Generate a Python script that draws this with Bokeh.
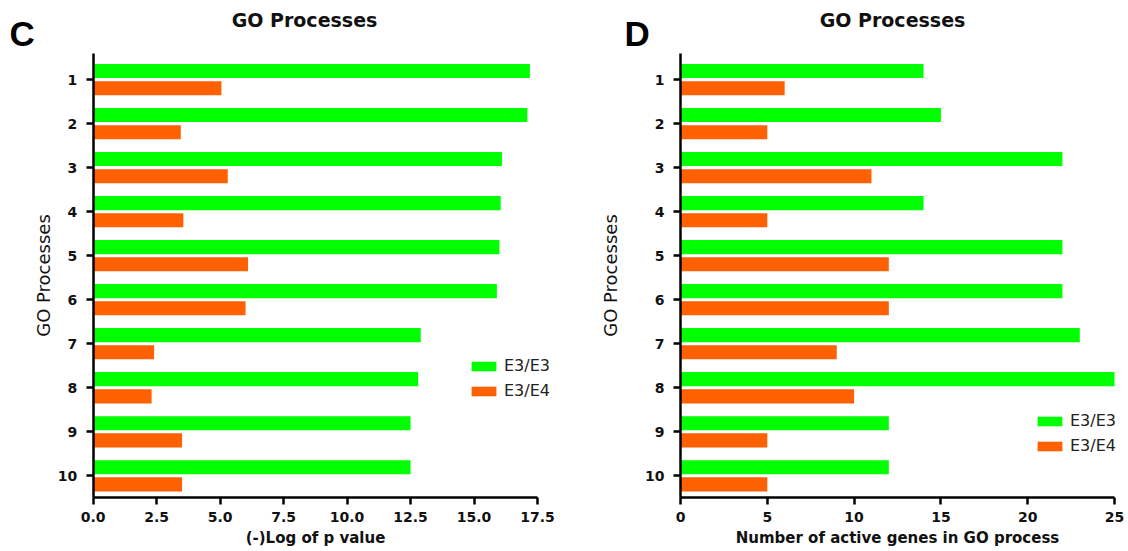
from bokeh.plotting import figure
from bokeh.layouts import row
from bokeh.models import (Range1d, FixedTicker, Legend, LegendItem, Label,
                          ColumnDataSource, CustomJSTickFormatter)
from bokeh.transform import dodge
from bokeh.embed import file_html
from bokeh.resources import INLINE

# GO process ranks (1 = top)
processes = [1, 2, 3, 4, 5, 6, 7, 8, 9, 10]

# Panel C: -log10(p) per GO process
logp_e3e3 = [17.2, 17.1, 16.1, 16.05, 16.0, 15.9, 12.9, 12.8, 12.5, 12.5]
logp_e3e4 = [5.05, 3.45, 5.3, 3.55, 6.1, 6.0, 2.4, 2.3, 3.5, 3.5]

# Panel D: number of active genes per GO process
genes_e3e3 = [14, 15, 22, 14, 22, 22, 23, 25, 12, 12]
genes_e3e4 = [6, 5, 11, 5, 12, 12, 9, 10, 5, 5]

ticks_c = [0.0, 2.5, 5.0, 7.5, 10.0, 12.5, 15.0, 17.5]
ticks_d = [0, 5, 10, 15, 20, 25]

series_names = ["E3/E3", "E3/E4"]
GREEN = "#00FF00"
ORANGE = "#FF6000"
FONT = "DejaVu Sans"

FIG_W, FIG_H = 564, 551
# vertical extent of the category axis inside each panel (pixels from top)
Y_TOP_PX, Y_BOT_PX = 52.7, 497.3
Y_LO, Y_HI = 0.4, 10.5


def panel(letter, x_label, a, b, ticks, xmax, tick_fmt, axis_left_px,
          axis_right_px, title_cx, letter_x, ylabel_standoff, legend_xy):
    # pixel <-> data mapping so that the axes sit where they should while
    # the frame spans the whole canvas (titles and legend are drawn inside)
    xs = (axis_right_px - axis_left_px) / xmax
    ys = (Y_BOT_PX - Y_TOP_PX) / (Y_HI - Y_LO)

    def dx(px):
        return (px - axis_left_px) / xs

    def dy(px):
        return Y_LO + (px - Y_TOP_PX) / ys

    src = ColumnDataSource(dict(proc=processes, a=a, b=b))
    p = figure(width=FIG_W, height=FIG_H,
               x_range=Range1d(dx(0), dx(FIG_W)),
               y_range=Range1d(dy(FIG_H), dy(0)),
               min_border=0, output_backend="svg", toolbar_location=None)

    g = p.hbar(y=dodge("proc", -0.195, range=p.y_range), right="a", left=0,
               height=0.32, source=src, fill_color=GREEN, line_color=None)
    o = p.hbar(y=dodge("proc", 0.195, range=p.y_range), right="b", left=0,
               height=0.32, source=src, fill_color=ORANGE, line_color=None)

    p.xgrid.visible = False
    p.ygrid.visible = False
    p.outline_line_color = None
    p.background_fill_color = "white"
    p.border_fill_color = "white"

    for ax in (p.xaxis[0], p.yaxis[0]):
        ax.axis_line_width = 2.5
        ax.axis_line_color = "black"
        ax.major_tick_line_width = 2.5
        ax.major_tick_line_color = "black"
        ax.major_tick_out = 7
        ax.major_tick_in = 0
        ax.minor_tick_line_color = None
        ax.major_label_text_font = FONT
        ax.major_label_text_font_style = "bold"
        ax.major_label_text_font_size = "14px"
        ax.major_label_text_color = "#111111"
        ax.axis_label_text_font = FONT
        ax.axis_label_text_color = "#111111"

    xa = p.xaxis[0]
    xa.fixed_location = Y_HI
    xa.bounds = (0, xmax)
    xa.ticker = FixedTicker(ticks=ticks)
    xa.formatter = CustomJSTickFormatter(code=tick_fmt)
    xa.axis_label = x_label
    xa.axis_label_text_font_style = "bold"
    xa.axis_label_text_font_size = "15px"
    xa.major_label_standoff = 7
    xa.axis_label_standoff = 4

    ya = p.yaxis[0]
    ya.fixed_location = 0
    ya.bounds = (Y_LO, Y_HI)
    ya.ticker = FixedTicker(ticks=processes)
    ya.axis_label = "GO Processes"
    ya.axis_label_text_font_style = "normal"
    ya.axis_label_text_font_size = "18px"
    ya.major_label_standoff = 9
    ya.axis_label_standoff = ylabel_standoff

    legend = Legend(items=[LegendItem(label=series_names[0], renderers=[g]),
                           LegendItem(label=series_names[1], renderers=[o])],
                    location=legend_xy, orientation="vertical")
    legend.label_text_font = FONT
    legend.label_text_font_size = "16px"
    legend.label_text_color = "#222222"
    legend.glyph_width = 31
    legend.glyph_height = 12
    legend.label_standoff = 5
    legend.label_height = 14
    legend.spacing = 6
    legend.padding = 0
    legend.margin = 0
    legend.border_line_color = None
    legend.background_fill_alpha = 0
    p.add_layout(legend)

    # chart title and panel letter
    p.add_layout(Label(x=dx(title_cx), y=dy(19.5), text="GO Processes",
                       text_font=FONT, text_font_style="bold",
                       text_font_size="19px", text_color="#111111",
                       text_align="center", text_baseline="middle"))
    p.add_layout(Label(x=dx(letter_x), y=dy(33), text=letter,
                       text_font="Liberation Sans", text_font_style="bold",
                       text_font_size="35px", text_color="black",
                       text_align="left", text_baseline="middle"))
    return p


left = panel("C", "(-)Log of p value", logp_e3e3, logp_e3e4, ticks_c, 17.5,
             "return tick.toFixed(1);", 92.7, 537.0, 304, 9, 1, (468, 151))
right = panel("D", "Number of active genes in GO process", genes_e3e3,
              genes_e3e4, ticks_d, 25, "return tick.toFixed(0);", 116.0,
              550.0, 328, 60, 21, (470, 96))

layout = row(left, right)
open("out.html", "w").write(file_html(layout, INLINE))
